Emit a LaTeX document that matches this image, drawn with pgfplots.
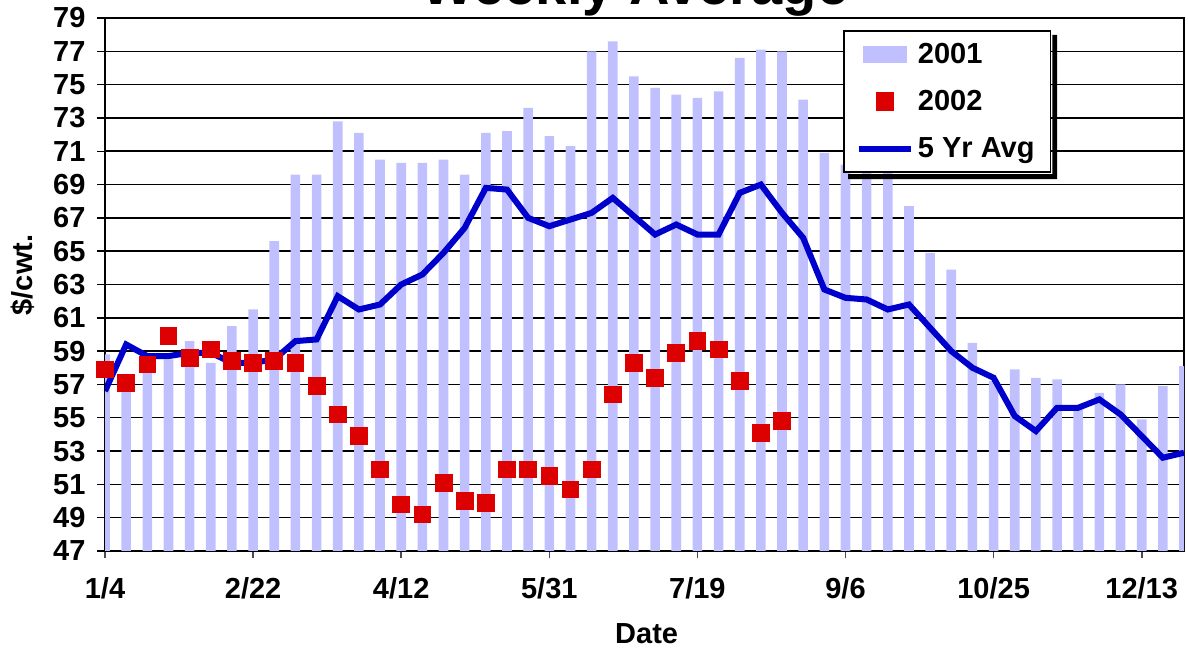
\documentclass[border=0pt]{standalone}
\usepackage{fontspec}
\setmainfont{Liberation Sans}
\usepackage{pgfplots}
\usepackage{pgfplotstable}
\pgfplotsset{compat=1.18}
\usetikzlibrary{calc}

\definecolor{barblue}{RGB}{192,192,255}
\definecolor{avgblue}{RGB}{0,0,204}
\definecolor{sqred}{RGB}{221,0,0}

% week index (0 = 1/4), price in $/cwt.
\pgfplotstableread{
w v
0 58.8
1 57.6
2 58.0
3 58.5
4 59.6
5 58.3
6 60.5
7 61.5
8 65.6
9 69.6
10 69.6
11 72.8
12 72.1
13 70.5
14 70.3
15 70.3
16 70.5
17 69.6
18 72.1
19 72.2
20 73.6
21 71.9
22 71.3
23 77.0
24 77.6
25 75.5
26 74.8
27 74.4
28 74.2
29 74.6
30 76.6
31 77.1
32 77.0
33 74.1
34 70.9
35 70.2
36 69.9
37 70.0
38 67.7
39 64.9
40 63.9
41 59.5
42 57.2
43 57.9
44 57.4
45 57.3
46 55.5
47 56.5
48 57.0
49 54.9
50 56.9
51 58.1
}\yrA

\pgfplotstableread{
w v
0 57.9
1 57.1
2 58.2
3 59.9
4 58.6
5 59.1
6 58.4
7 58.3
8 58.4
9 58.3
10 56.9
11 55.2
12 53.9
13 51.9
14 49.8
15 49.2
16 51.1
17 50.0
18 49.9
19 51.9
20 51.9
21 51.5
22 50.7
23 51.9
24 56.4
25 58.3
26 57.4
27 58.9
28 59.6
29 59.1
30 57.2
31 54.1
32 54.8
}\yrB

\pgfplotstableread{
w v
0 56.6
1 59.4
2 58.7
3 58.7
4 58.9
5 58.9
6 58.3
7 58.3
8 58.5
9 59.6
10 59.7
11 62.3
12 61.5
13 61.8
14 63.0
15 63.6
16 64.9
17 66.4
18 68.8
19 68.7
20 67.0
21 66.5
22 66.9
23 67.3
24 68.2
25 67.1
26 66.0
27 66.6
28 66.0
29 66.0
30 68.5
31 69.0
32 67.3
33 65.8
34 62.7
35 62.2
36 62.1
37 61.5
38 61.8
39 60.4
40 59.0
41 58.0
42 57.4
43 55.1
44 54.2
45 55.6
46 55.6
47 56.1
48 55.2
49 53.9
50 52.6
51 52.9
}\avg

\begin{document}
\begin{tikzpicture}
\begin{axis}[
  name=ax,
  scale only axis,
  width=539.5pt, height=266.5pt,
  xmin=0, xmax=51, ymin=47, ymax=79,
  axis line style={black, line width=0.8pt},
  xtick={0,7,14,21,28,35,42,49},
  xticklabels={1/4,2/22,4/12,5/31,7/19,9/6,10/25,12/13},
  ytick={47,49,...,79},
  major tick length=7.5pt,
  tick align=center,
  x tick style={gray!60!black, line width=0.8pt},
  y tick style={black, line width=0.7pt},
  xtick pos=bottom, ytick pos=left,
  ymajorgrids,
  major grid style={black, line width=0.75pt},
  /pgf/number format/assume math mode=true,
  yticklabel style={font=\bfseries\fontsize{14.5}{16}\selectfont, xshift=-2.5pt},
  xticklabel style={font=\bfseries\fontsize{14.5}{16}\selectfont, yshift=-6pt},
  xlabel={Date},
  ylabel={\$/cwt.},
  xlabel style={font=\bfseries\fontsize{14.5}{16}\selectfont, at={(axis description cs:0.502,0)}, anchor=base, yshift=-46pt},
  ylabel style={font=\bfseries\fontsize{14.5}{16}\selectfont, at={(axis description cs:-0.0765,0.518)}, anchor=center},
  legend cell align=left,
  legend style={name=leg, at={(rel axis cs:0.684,0.9775)}, anchor=north west,
    draw=black, line width=0.9pt, fill=white,
    font=\bfseries\fontsize{14.5}{16}\selectfont,
    row sep=8pt, inner xsep=6pt, inner ysep=4pt},
]
\addplot[ybar, bar width=4.8pt, fill=barblue, draw=none,
  legend image code/.code={\path (0pt,0pt) (26pt,0pt); \fill[barblue] (2pt,-4.25pt) rectangle (24pt,4.25pt);}]
  table[x=w, y=v] {\yrA};
\addlegendentry{2001}
\addlegendimage{only marks, mark=square*, mark size=4.2pt, color=sqred,
  legend image code/.code={\path (0pt,0pt) (26pt,0pt); \fill[sqred] (8.8pt,-4.2pt) rectangle (17.2pt,4.2pt);}}
\addlegendentry{2002}
\addplot[avgblue, line width=3pt,
  legend image code/.code={\draw[avgblue, line width=3pt] (0pt,0pt) -- (26pt,0pt);}]
  table[x=w, y=v] {\avg};
\addlegendentry{5 Yr Avg}
\addplot[only marks, mark=square*, mark size=4.2pt, color=sqred, forget plot]
  table[x=w, y=v] {\yrB};
\end{axis}
% legend shadow
\fill[black] ($(leg.south west)+(2.5pt,-0.45pt)$) -- ($(leg.south east)+(0.45pt,-0.45pt)$)
  -- ($(leg.north east)+(0.45pt,-2.5pt)$) -- ($(leg.north east)+(2.9pt,-2.5pt)$)
  -- ($(leg.south east)+(2.9pt,-2.9pt)$) -- ($(leg.south west)+(2.5pt,-2.9pt)$) -- cycle;
\node[font=\bfseries\fontsize{28}{32}\selectfont, anchor=base]
  at ($(ax.north west)+(265pt,6.5pt)$) {Weekly Average};
\pgfresetboundingbox
\path[use as bounding box] ($(ax.south west)+(-52.5pt,-49.5pt)$) rectangle ($(ax.north east)+(2pt,9pt)$);
\end{tikzpicture}
\end{document}
